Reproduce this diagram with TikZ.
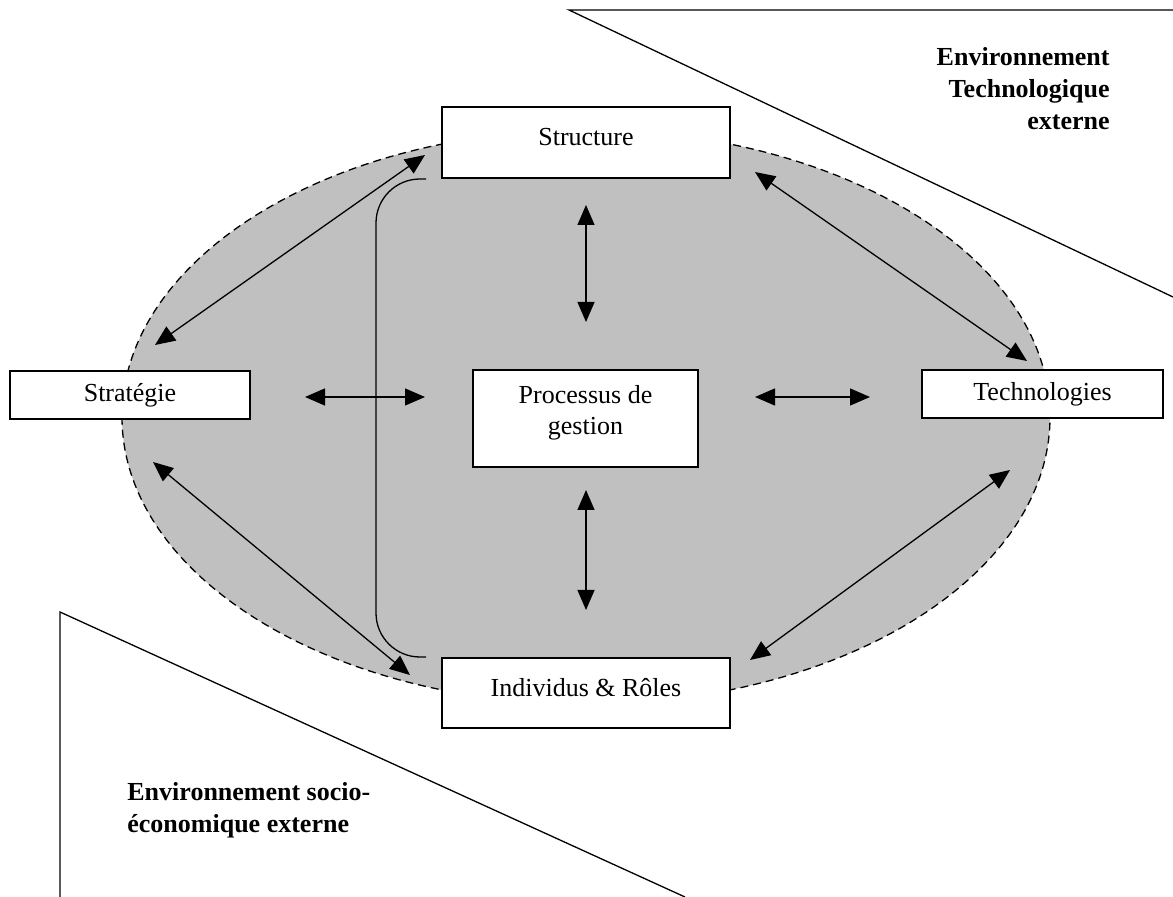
\documentclass[tikz,border=0pt]{standalone}
\usepackage{fontspec}
\setmainfont{Liberation Serif}
\usetikzlibrary{positioning,calc,arrows.meta}
\tikzset{font=\fontsize{13}{15.5}\selectfont}
\definecolor{argent}{RGB}{192,192,192}

\begin{document}
\begin{tikzpicture}[x=0.5pt,y=-0.5pt]
	\useasboundingbox (0,0) rectangle (1173,897);
	\begin{scope}
		\tikzstyle{boite}=[draw, fill=white, line width=1pt, inner sep=1pt, align=center]
		\tikzstyle{fleche}=[{Triangle[length=10pt,width=8.5pt]}-{Triangle[length=10pt,width=8.5pt]}, line width=0.65pt]
		\tikzstyle{env}=[font=\fontsize{13}{16}\selectfont\bfseries, inner sep=0pt]

		% organisation
		\draw [dash pattern=on 4pt off 2.5pt, line width=0.65pt, fill=argent] (586,417) ellipse [x radius=232pt, y radius=143.5pt];

		\node[boite, minimum width=144pt, minimum height=35.5pt, text depth=6pt] (structure) at (586,142.5) {Structure};
		\node[boite, minimum width=120pt, minimum height=24pt] (strategie) at (130,395) {Strat\'egie};
		\node[boite, minimum width=120.5pt, minimum height=24pt] (techno) at (1042.5,394) {Technologies};
		\node[boite, minimum width=112.5pt, minimum height=48.5pt, text depth=9pt] (processus) at (585.5,418.5) {Processus de\\gestion};
		\node[boite, minimum width=144pt, minimum height=35pt, text depth=6pt] (individus) at (586,693) {Individus \& R\^oles};

		\draw [line width=0.65pt, rounded corners=22pt] ([xshift=-7.5pt]structure.south west) -- ++(-25pt,0)
			-- ([xshift=-32.5pt]individus.north west) -- ([xshift=-7.5pt]individus.north west);

		% fleches
		\coordinate (sg1) at (155,345);
		\coordinate (sg2) at (425,155);
		\coordinate (st1) at (755,172);
		\coordinate (st2) at (1027,361);
		\coordinate (ig1) at (153,462);
		\coordinate (ig2) at (410,675);
		\coordinate (it1) at (1010,470);
		\coordinate (it2) at (750,660);
		\coordinate (vh1) at (586,205);
		\coordinate (vh2) at (586,322);
		\coordinate (vb1) at (586,490);
		\coordinate (vb2) at (586,610);
		\coordinate (hg1) at (305,397);
		\coordinate (hg2) at (425,397);
		\coordinate (hd1) at (755,397);
		\coordinate (hd2) at (870,397);

		\draw [fleche] (sg1) -- (sg2);
		\draw [fleche] (st1) -- (st2);
		\draw [fleche] (ig1) -- (ig2);
		\draw [fleche] (it1) -- (it2);
		\draw [fleche] (vh1) -- (vh2);
		\draw [fleche] (vb1) -- (vb2);
		\draw [fleche] (hg1) -- (hg2);
		\draw [fleche] (hd1) -- (hd2);

		% environnements
		\draw [line width=0.65pt] (1173,10) -- (569,10) -- (1173,297);
		\draw [line width=0.65pt] (60,897) -- (60,612) -- (685,897);

		\node[env, align=right, anchor=east] (envtech) at (1110,89) {Environnement\\Technologique\\externe};
		\node[env, align=left, anchor=west] (envsocio) at (127,810) {Environnement socio-\\\'economique externe};
	\end{scope}
\end{tikzpicture}
\end{document}
